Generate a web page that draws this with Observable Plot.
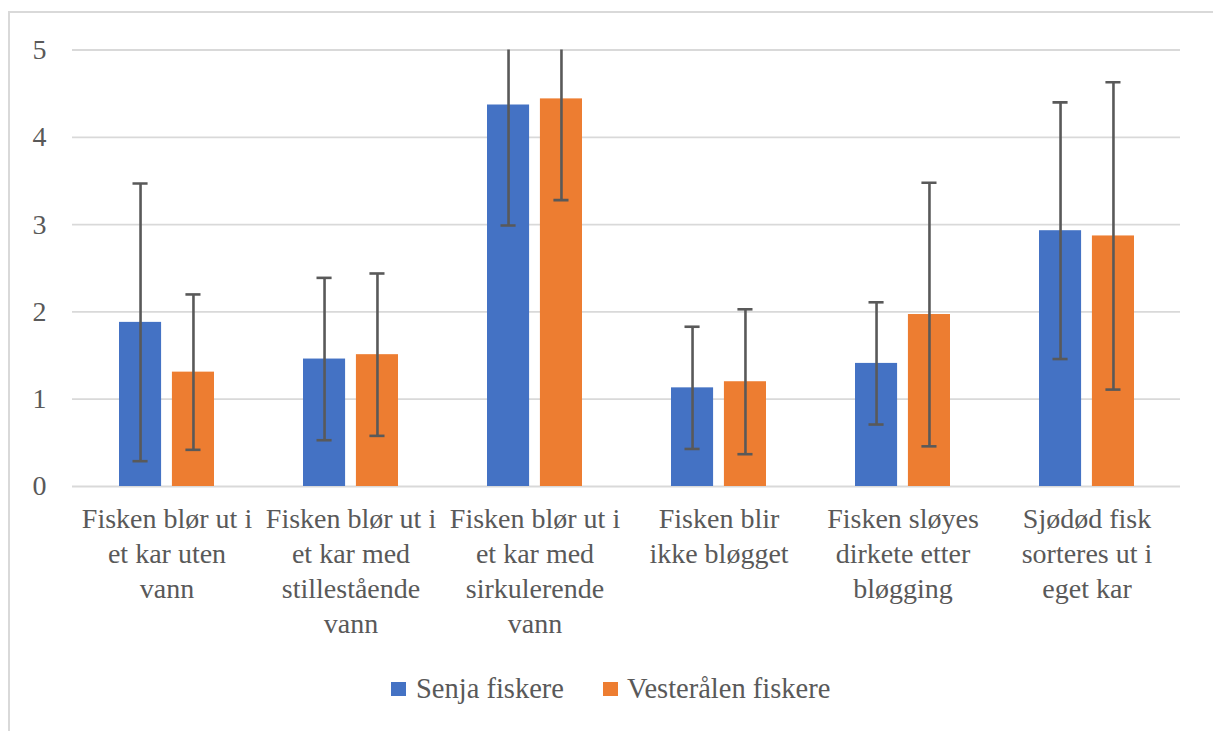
<!DOCTYPE html>
<html>
<head>
<meta charset="utf-8">
<script src="https://cdn.jsdelivr.net/npm/d3@7"></script>
<script src="https://cdn.jsdelivr.net/npm/@observablehq/plot@0.6"></script>
<style>
  html, body { margin: 0; padding: 0; background: #fff; width: 1213px; height: 731px; overflow: hidden; }
  #chart { position: absolute; left: 0; top: 0; }
  #frame { position: absolute; left: 8px; top: 11px; width: 1220px; height: 740px;
           border-left: 2px solid #d9d9d9; border-top: 2px solid #d9d9d9; pointer-events: none; }
  #legend { position: absolute; left: 391px; top: 673px; display: flex; align-items: center;
            font-family: "Liberation Serif", "Times New Roman", serif; font-size: 28.5px; color: #595959;
            white-space: nowrap; }
  .sw { display: inline-block; width: 15px; height: 14px; }
</style>
</head>
<body>
<div id="chart"></div>
<div id="frame"></div>
<div id="legend">
  <span class="sw" style="background:#4472C4"></span><span id="l1" style="margin-left:10px"></span>
  <span class="sw" style="background:#ED7D31; margin-left:39px"></span><span id="l2" style="margin-left:9px"></span>
</div>
<script>
const categories = [
  "Fisken blør ut i et kar uten vann",
  "Fisken blør ut i et kar med stillestående vann",
  "Fisken blør ut i et kar med sirkulerende vann",
  "Fisken blir ikke bløgget",
  "Fisken sløyes dirkete etter bløgging",
  "Sjødød fisk sorteres ut i eget kar"
];
const tickLabels = [
  "Fisken blør ut i\net kar uten\nvann",
  "Fisken blør ut i\net kar med\nstillestående\nvann",
  "Fisken blør ut i\net kar med\nsirkulerende\nvann",
  "Fisken blir\nikke bløgget",
  "Fisken sløyes\ndirkete etter\nbløgging",
  "Sjødød fisk\nsorteres ut i\neget kar"
];
const seriesNames = ["Senja fiskere", "Vesterålen fiskere"];
const senjaMean = [1.88, 1.46, 4.37, 1.13, 1.41, 2.93];
const senjaSD   = [1.59, 0.93, 1.38, 0.70, 0.70, 1.47];
const vestMean  = [1.31, 1.51, 4.44, 1.20, 1.97, 2.87];
const vestSD    = [0.89, 0.93, 1.16, 0.83, 1.51, 1.76];
const yTicks = [0, 1, 2, 3, 4, 5];
const colors = ["#4472C4", "#ED7D31"];

const senja = categories.map((c, i) => ({cat: c, mean: senjaMean[i], lo: senjaMean[i] - senjaSD[i], hi: senjaMean[i] + senjaSD[i]}));
const vest  = categories.map((c, i) => ({cat: c, mean: vestMean[i],  lo: vestMean[i]  - vestSD[i],  hi: vestMean[i]  + vestSD[i]}));

const W = 1213, H = 660;
const mL = 72, mR = 33, mT = 49.5, mB = 174;
const pInner = 0.486, pOuter = 0.243;
const step = (W - mL - mR) / (categories.length - pInner + 2 * pOuter);
const bw = step * (1 - pInner);   // group width
const barW = 42, capW = 15;
const off = bw / 2 - barW / 2;     // offset of each bar center from group center
const capIn = barW / 2 - capW / 2;

const errStyle = {stroke: "#595959", strokeWidth: 2.6, clip: true};

const plot = Plot.plot({
  width: W, height: H,
  marginLeft: mL, marginRight: mR, marginTop: mT, marginBottom: mB,
  style: {fontFamily: "'Liberation Serif', 'Times New Roman', serif", color: "#595959", background: "transparent", overflow: "visible"},
  x: {domain: categories, paddingInner: pInner, paddingOuter: pOuter, label: null},
  y: {domain: [0, 5], label: null},
  marks: [
    Plot.gridY(yTicks, {stroke: "#d9d9d9", strokeOpacity: 1, strokeWidth: 1.8}),
    Plot.barY(senja, {x: "cat", y: "mean", fill: colors[0], insetLeft: 0, insetRight: bw - barW}),
    Plot.barY(vest,  {x: "cat", y: "mean", fill: colors[1], insetLeft: bw - barW, insetRight: 0}),
    Plot.ruleX(senja, {x: "cat", y1: "lo", y2: "hi", dx: -off, ...errStyle}),
    Plot.ruleX(vest,  {x: "cat", y1: "lo", y2: "hi", dx: off, ...errStyle}),
    Plot.tickY(senja, {x: "cat", y: "lo", insetLeft: capIn, insetRight: bw - barW + capIn, ...errStyle}),
    Plot.tickY(senja, {x: "cat", y: "hi", insetLeft: capIn, insetRight: bw - barW + capIn, ...errStyle}),
    Plot.tickY(vest,  {x: "cat", y: "lo", insetLeft: bw - barW + capIn, insetRight: capIn, ...errStyle}),
    Plot.tickY(vest,  {x: "cat", y: "hi", insetLeft: bw - barW + capIn, insetRight: capIn, ...errStyle}),
    Plot.axisY({ticks: yTicks, tickSize: 0, tickPadding: 26, fontSize: 28, label: null, tickFormat: d => String(d)}),
    Plot.axisX({tickSize: 0, tickPadding: 17, fontSize: 28, lineHeight: 1.25,
                tickFormat: d => tickLabels[categories.indexOf(d)], label: null})
  ]
});
document.getElementById("chart").appendChild(plot);
document.getElementById("l1").textContent = seriesNames[0];
document.getElementById("l2").textContent = seriesNames[1];
</script>
</body>
</html>
